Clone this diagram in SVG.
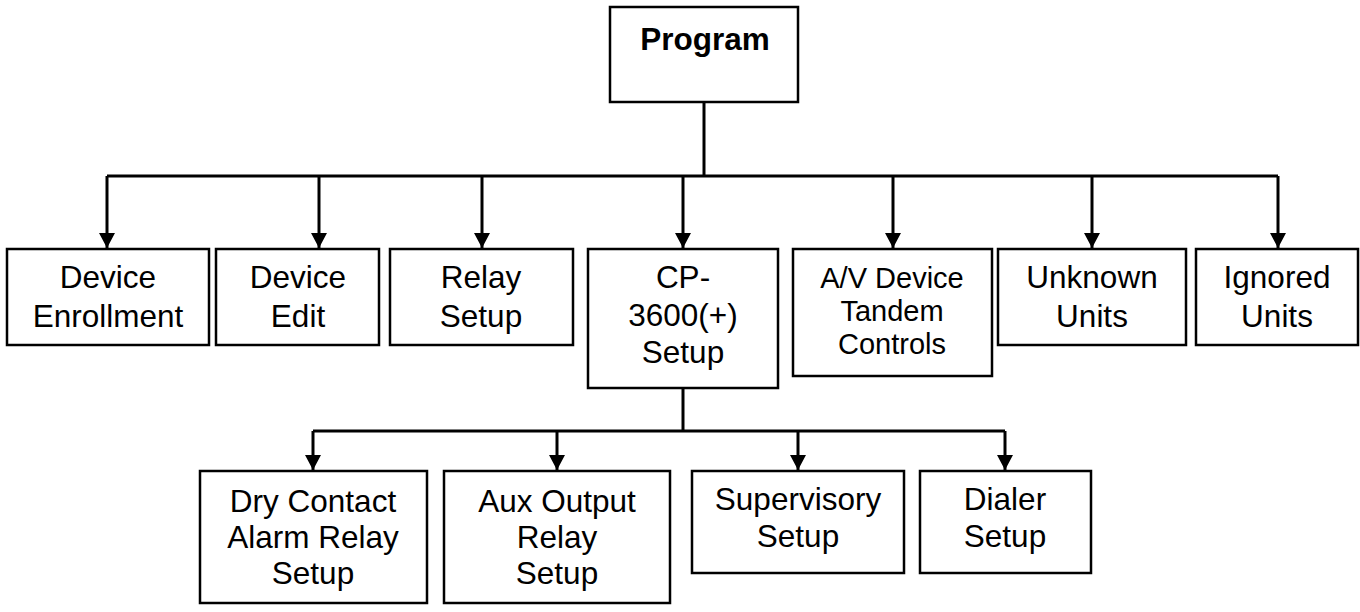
<svg xmlns="http://www.w3.org/2000/svg" width="1360" height="612" viewBox="0 0 1360 612">
<defs>
<marker id="arr" markerWidth="16" markerHeight="16" viewBox="0 0 16 16" refX="15" refY="8" orient="auto" markerUnits="userSpaceOnUse">
<path d="M0,0 L15,8 L0,16 Z" fill="#000"/>
</marker>
<style>
.box{fill:#fff;stroke:#000;stroke-width:2.5}
.t{font-family:"Liberation Sans",Arial,sans-serif;font-size:31.5px;fill:#000;text-anchor:middle}
.s{font-size:29px}
.b{font-weight:bold}
.ln{fill:none;stroke:#000;stroke-width:3}
.ar{fill:none;stroke:#000;stroke-width:3;marker-end:url(#arr)}
</style>
</defs>
<rect width="1360" height="612" fill="#fff"/>
<g id="connectors">
<path class="ln" d="M704,102 V176"/>
<path class="ln" d="M107,176 H1278"/>
<path class="ar" d="M107,176 V248"/>
<path class="ar" d="M319,176 V248"/>
<path class="ar" d="M482,176 V248"/>
<path class="ar" d="M683,176 V248"/>
<path class="ar" d="M893,176 V248"/>
<path class="ar" d="M1092,176 V248"/>
<path class="ar" d="M1278,176 V248"/>
<path class="ln" d="M683,388 V431"/>
<path class="ln" d="M313,431 H1005"/>
<path class="ar" d="M313,431 V470"/>
<path class="ar" d="M557,431 V470"/>
<path class="ar" d="M798,431 V470"/>
<path class="ar" d="M1005,431 V470"/>
</g>
<g id="program">
<rect class="box" x="610" y="7" width="188" height="95"/>
<text class="t b" x="705" y="50">Program</text>
</g>
<g id="device-enrollment">
<rect class="box" x="7" y="249" width="202" height="96"/>
<text class="t" x="108" y="288">Device</text>
<text class="t" x="108" y="327">Enrollment</text>
</g>
<g id="device-edit">
<rect class="box" x="216" y="249" width="163" height="96"/>
<text class="t" x="298" y="288">Device</text>
<text class="t" x="298" y="327">Edit</text>
</g>
<g id="relay-setup">
<rect class="box" x="390" y="249" width="183" height="96"/>
<text class="t" x="481" y="288">Relay</text>
<text class="t" x="481" y="327">Setup</text>
</g>
<g id="cp3600-setup">
<rect class="box" x="588" y="249" width="190" height="139"/>
<text class="t" x="683" y="288">CP-</text>
<text class="t" x="683" y="326">3600(+)</text>
<text class="t" x="683" y="363">Setup</text>
</g>
<g id="av-device">
<rect class="box" x="793" y="249" width="199" height="127"/>
<text class="t s" x="892" y="288">A/V Device</text>
<text class="t s" x="892" y="321">Tandem</text>
<text class="t s" x="892" y="354">Controls</text>
</g>
<g id="unknown-units">
<rect class="box" x="998" y="249" width="188" height="96"/>
<text class="t" x="1092" y="288">Unknown</text>
<text class="t" x="1092" y="327">Units</text>
</g>
<g id="ignored-units">
<rect class="box" x="1196" y="249" width="162" height="96"/>
<text class="t" x="1277" y="288">Ignored</text>
<text class="t" x="1277" y="327">Units</text>
</g>
<g id="dry-contact">
<rect class="box" x="200" y="471" width="227" height="132"/>
<text class="t" x="313" y="512">Dry Contact</text>
<text class="t" x="313" y="548">Alarm Relay</text>
<text class="t" x="313" y="584">Setup</text>
</g>
<g id="aux-output">
<rect class="box" x="444" y="471" width="226" height="132"/>
<text class="t" x="557" y="512">Aux Output</text>
<text class="t" x="557" y="548">Relay</text>
<text class="t" x="557" y="584">Setup</text>
</g>
<g id="supervisory">
<rect class="box" x="692" y="471" width="212" height="102"/>
<text class="t" x="798" y="510">Supervisory</text>
<text class="t" x="798" y="547">Setup</text>
</g>
<g id="dialer">
<rect class="box" x="920" y="471" width="171" height="102"/>
<text class="t" x="1005" y="510">Dialer</text>
<text class="t" x="1005" y="547">Setup</text>
</g>
</svg>
